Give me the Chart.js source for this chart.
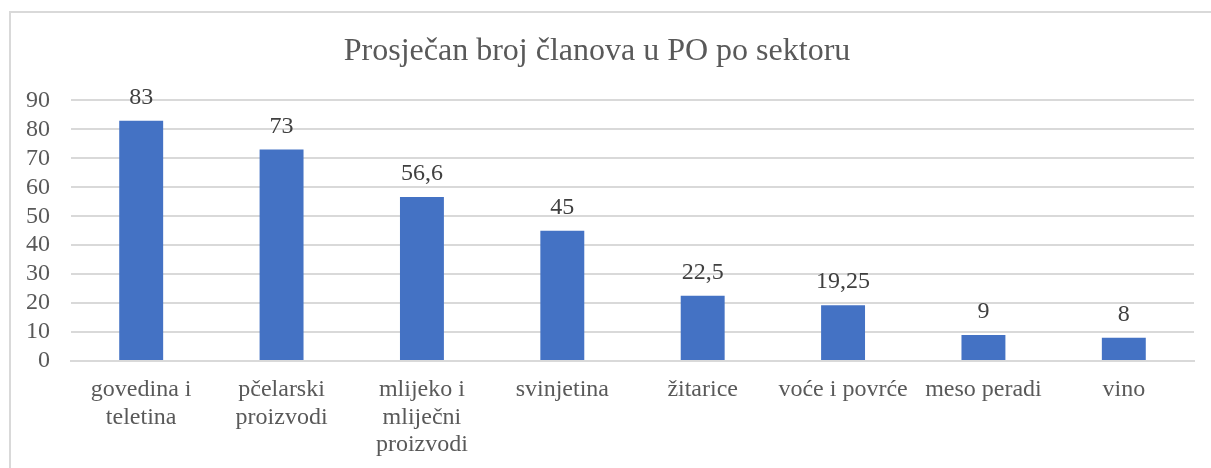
<!DOCTYPE html>
<html>
<head>
<meta charset="utf-8">
<script src="https://cdn.jsdelivr.net/npm/chart.js@4"></script>
<style>
html,body{margin:0;padding:0;background:#fff;}
#wrap{width:1211px;height:468px;position:relative;}
</style>
</head>
<body>
<div id="wrap"><canvas id="c" width="1211" height="468"></canvas></div>
<script>
const titleText = 'Prosječan broj članova u PO po sektoru';
const categories = [
  ['govedina i','teletina'],
  ['pčelarski','proizvodi'],
  ['mlijeko i','mliječni','proizvodi'],
  'svinjetina',
  'žitarice',
  'voće i povrće',
  'meso peradi',
  'vino'
];
const values = [83, 73, 56.6, 45, 22.5, 19.25, 9, 8];
const yTicks = [0,10,20,30,40,50,60,70,80,90];

const textColor = '#595959';
const serif = "'Liberation Serif', 'Times New Roman', serif";

const fmt = v => String(v).replace('.', ',');

const framePlugin = {
  id: 'frame',
  beforeDraw(chart) {
    const ctx = chart.ctx;
    ctx.save();
    ctx.fillStyle = '#fff';
    ctx.fillRect(0,0,chart.width,chart.height);
    ctx.strokeStyle = '#d9d9d9';
    ctx.lineWidth = 2;
    ctx.strokeRect(10, 12, 1400, 800);
    ctx.restore();
  }
};

const labelPlugin = {
  id: 'valueLabels',
  afterDatasetsDraw(chart) {
    const ctx = chart.ctx;
    const meta = chart.getDatasetMeta(0);
    ctx.save();
    ctx.font = "24px " + serif;
    ctx.fillStyle = '#404040';
    ctx.textAlign = 'center';
    ctx.textBaseline = 'alphabetic';
    meta.data.forEach((bar, i) => {
      ctx.fillText(fmt(values[i]), bar.x, bar.y - 17);
    });
    ctx.restore();
  }
};

new Chart(document.getElementById('c'), {
  type: 'bar',
  data: {
    labels: categories,
    datasets: [{
      data: values,
      backgroundColor: '#4472C4',
      borderWidth: 0,
      categoryPercentage: 1,
      barPercentage: 0.313
    }]
  },
  options: {
    responsive: false,
    animation: false,
    devicePixelRatio: 1,
    layout: { padding: { left: 0, right: 17, top: 0, bottom: 0 } },
    plugins: {
      legend: { display: false },
      tooltip: { enabled: false },
      title: {
        display: true,
        text: titleText,
        color: textColor,
        font: { family: serif, size: 32, weight: 'normal', lineHeight: 1.2 },
        padding: { top: 32, bottom: 30 }
      }
    },
    scales: {
      x: {
        grid: { display: false, drawTicks: false },
        border: { display: true, color: '#d9d9d9', width: 2 },
        ticks: {
          color: textColor,
          font: { family: serif, size: 24, lineHeight: 1.15 },
          padding: 15,
          maxRotation: 0,
          autoSkip: false
        },
        afterFit(scale) { scale.height = 107; }
      },
      y: {
        min: 0,
        max: 90,
        afterBuildTicks(scale) { scale.ticks = yTicks.map(v => ({ value: v })); },
        grid: { color: '#d9d9d9', lineWidth: 2, drawTicks: false },
        border: { display: false },
        ticks: {
          color: textColor,
          font: { family: serif, size: 24, lineHeight: 1 },
          padding: 21,
          autoSkip: false
        },
        afterFit(scale) { scale.width = 71; }
      }
    }
  },
  plugins: [framePlugin, labelPlugin]
});
</script>
</body>
</html>
